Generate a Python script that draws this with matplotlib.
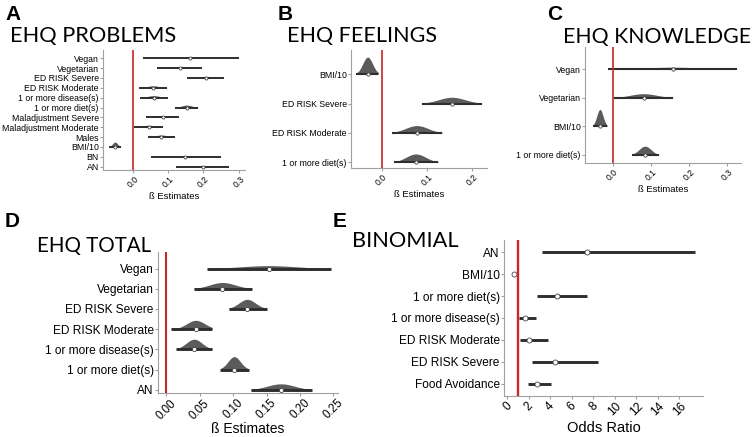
import numpy as np
import matplotlib.pyplot as plt

plt.rcParams['font.family'] = ['Liberation Sans', 'DejaVu Sans']

# A - EHQ problems (beta estimates, 95% interval)
a_labels = ["Vegan", "Vegetarian", "ED RISK Severe", "ED RISK Moderate",
            "1 or more disease(s)", "1 or more diet(s)", "Maladjustment Severe",
            "Maladjustment Moderate", "Males", "BMI/10", "BN", "AN"]
a_est = [0.163, 0.133, 0.207, 0.058, 0.059, 0.153, 0.085, 0.045, 0.081, -0.050, 0.148, 0.199]
a_lo = [0.028, 0.070, 0.155, 0.019, 0.020, 0.120, 0.039, 0.005, 0.042, -0.067, 0.051, 0.124]
a_hi = [0.300, 0.196, 0.258, 0.098, 0.099, 0.186, 0.131, 0.086, 0.119, -0.034, 0.251, 0.272]

# B - EHQ feelings
b_labels = ["BMI/10", "ED RISK Severe", "ED RISK Moderate", "1 or more diet(s)"]
b_est = [-0.031, 0.156, 0.078, 0.076]
b_lo = [-0.056, 0.089, 0.022, 0.027]
b_hi = [-0.007, 0.222, 0.135, 0.126]

# C - EHQ knowledge
c_labels = ["Vegan", "Vegetarian", "BMI/10", "1 or more diet(s)"]
c_est = [0.157, 0.081, -0.033, 0.085]
c_lo = [-0.011, 0.003, -0.051, 0.050]
c_hi = [0.326, 0.159, -0.014, 0.121]

# D - EHQ total
d_labels = ["Vegan", "Vegetarian", "ED RISK Severe", "ED RISK Moderate",
            "1 or more disease(s)", "1 or more diet(s)", "AN"]
d_est = [0.153, 0.084, 0.121, 0.044, 0.0415, 0.1015, 0.1715]
d_lo = [0.061, 0.041, 0.0935, 0.0065, 0.015, 0.081, 0.126]
d_hi = [0.2465, 0.1275, 0.150, 0.068, 0.0685, 0.123, 0.2175]

# E - binomial model (odds ratios)
e_labels = ["AN", "BMI/10", "1 or more diet(s)", "1 or more disease(s)",
            "ED RISK Moderate", "ED RISK Severe", "Food Avoidance"]
e_est = [7.44, 0.66, 4.59, 1.69, 2.03, 4.44, 2.78]
e_lo = [3.19, 0.62, 2.81, 1.06, 1.16, 2.34, 1.91]
e_hi = [17.47, 0.70, 7.41, 2.72, 3.75, 8.44, 4.09]

W, H = 752, 437
grey = '#a0a0a0'


def box(l, t, r, b):
    return [l / W, 1 - b / H, (r - l) / W, (b - t) / H]


def forest(ax, labels, est, lo, hi, hmax, lw, ms, ref=0.0, ref_lw=1.2):
    n = len(labels)
    ys = np.arange(n)[::-1]
    wmin = min(b - a for a, b in zip(lo, hi))
    for y, e, a, b in zip(ys, est, lo, hi):
        if hmax > 0:
            sd = (b - a) / 4.5
            xs = np.linspace(a, b, 120)
            dens = np.exp(-0.5 * ((xs - e) / sd) ** 2)
            ax.fill_between(xs, y, y + hmax * wmin / (b - a) * dens,
                            color='#5b5b5b', lw=0, zorder=2)
        ax.plot([a, b], [y, y], color='#2e2e2e', lw=lw, solid_capstyle='butt', zorder=3)
        ax.plot(e, y, 'o', mfc='white', mec='#444444', ms=ms, mew=0.6, zorder=4)
    ax.axvline(ref, color='#c62828', lw=ref_lw, zorder=5)
    ax.set_yticks(ys)
    ax.set_yticklabels(labels)
    for s in ['top', 'right']:
        ax.spines[s].set_visible(False)
    for s in ['left', 'bottom']:
        ax.spines[s].set_color(grey)
        ax.spines[s].set_linewidth(0.8)
    ax.tick_params(length=2, width=0.8, color=grey, pad=1)


fig = plt.figure(figsize=(W / 100, H / 100), dpi=100)

# panel A
ax = fig.add_axes(box(103, 50, 245, 170))
forest(ax, a_labels, a_est, a_lo, a_hi, 0.5, 1.4, 2.2)
ax.set_xlim(-0.084, 0.318)
ax.set_ylim(-0.34, 11.84)
ax.set_xticks([0, 0.1, 0.2, 0.3])
ax.set_xticklabels(['0.0', '0.1', '0.2', '0.3'], rotation=45, ha='center', va='top')
ax.tick_params(axis='y', labelsize=6.3)
ax.tick_params(axis='x', labelsize=6.2)
ax.set_xlabel('ß Estimates', fontsize=6.8, labelpad=2)

# panel B
ax = fig.add_axes(box(351, 50, 487, 168))
forest(ax, b_labels, b_est, b_lo, b_hi, 0.58, 1.5, 2.4)
ax.set_xlim(-0.068, 0.234)
ax.set_ylim(-0.19, 3.82)
ax.set_xticks([0, 0.1, 0.2])
ax.set_xticklabels(['0.0', '0.1', '0.2'], rotation=45, ha='center', va='top')
ax.tick_params(axis='y', labelsize=6.3)
ax.tick_params(axis='x', labelsize=6.2)
ax.set_xlabel('ß Estimates', fontsize=6.8, labelpad=2)

# panel C
ax = fig.add_axes(box(585, 47, 741, 163))
forest(ax, c_labels, c_est, c_lo, c_hi, 0.59, 1.5, 2.4)
ax.set_xlim(-0.072, 0.336)
ax.set_ylim(-0.28, 3.77)
ax.set_xticks([0, 0.1, 0.2, 0.3])
ax.set_xticklabels(['0.0', '0.1', '0.2', '0.3'], rotation=45, ha='center', va='top')
ax.tick_params(axis='y', labelsize=6.3)
ax.tick_params(axis='x', labelsize=6.2)
ax.set_xlabel('ß Estimates', fontsize=6.8, labelpad=2)

# panel D
ax = fig.add_axes(box(158, 252, 338, 393))
forest(ax, d_labels, d_est, d_lo, d_hi, 0.64, 2.1, 3.0, ref_lw=1.5)
ax.set_xlim(-0.0126, 0.257)
ax.set_ylim(-0.16, 6.82)
dt = [0, 0.05, 0.10, 0.15, 0.20, 0.25]
ax.set_xticks(dt)
ax.set_xticklabels([f'{t:.2f}' for t in dt], rotation=45, ha='center', va='top')
ax.tick_params(labelsize=8.6)
ax.tick_params(axis='x', labelsize=8.3)
ax.set_xlabel('ß Estimates', fontsize=10, labelpad=0)

# panel E
ax = fig.add_axes(box(504, 240, 703, 396))
forest(ax, e_labels, e_est, e_lo, e_hi, 0, 2.1, 3.6, ref=1.0, ref_lw=1.7)
ax.set_xlim(-0.3, 18.2)
ax.set_ylim(-0.57, 6.56)
et = list(range(0, 17, 2))
ax.set_xticks(et)
ax.set_xticklabels([str(t) for t in et], rotation=45, ha='center', va='top')
ax.tick_params(labelsize=8.6)
ax.set_xlabel('Odds Ratio', fontsize=10.5, labelpad=2)

# titles and panel letters
titles = [("A", "EHQ PROBLEMS", 5, 20, 10, 42, 15.7),
          ("B", "EHQ FEELINGS", 278, 20, 287, 42, 15.5),
          ("C", "EHQ KNOWLEDGE", 547, 20, 563, 43, 15.3),
          ("D", "EHQ TOTAL", 5, 227, 37, 252, 14.8),
          ("E", "BINOMIAL", 333, 227, 352, 247, 15.7)]
for let, ttl, lx, ly, tx, ty, fs in titles:
    fig.text(lx / W, 1 - ly / H, let, fontsize=15, fontweight='bold', va='baseline')
    fig.text(tx / W, 1 - ty / H, ttl, fontsize=fs, family='Lato', va='baseline')

fig.savefig('out.png', dpi=100)
